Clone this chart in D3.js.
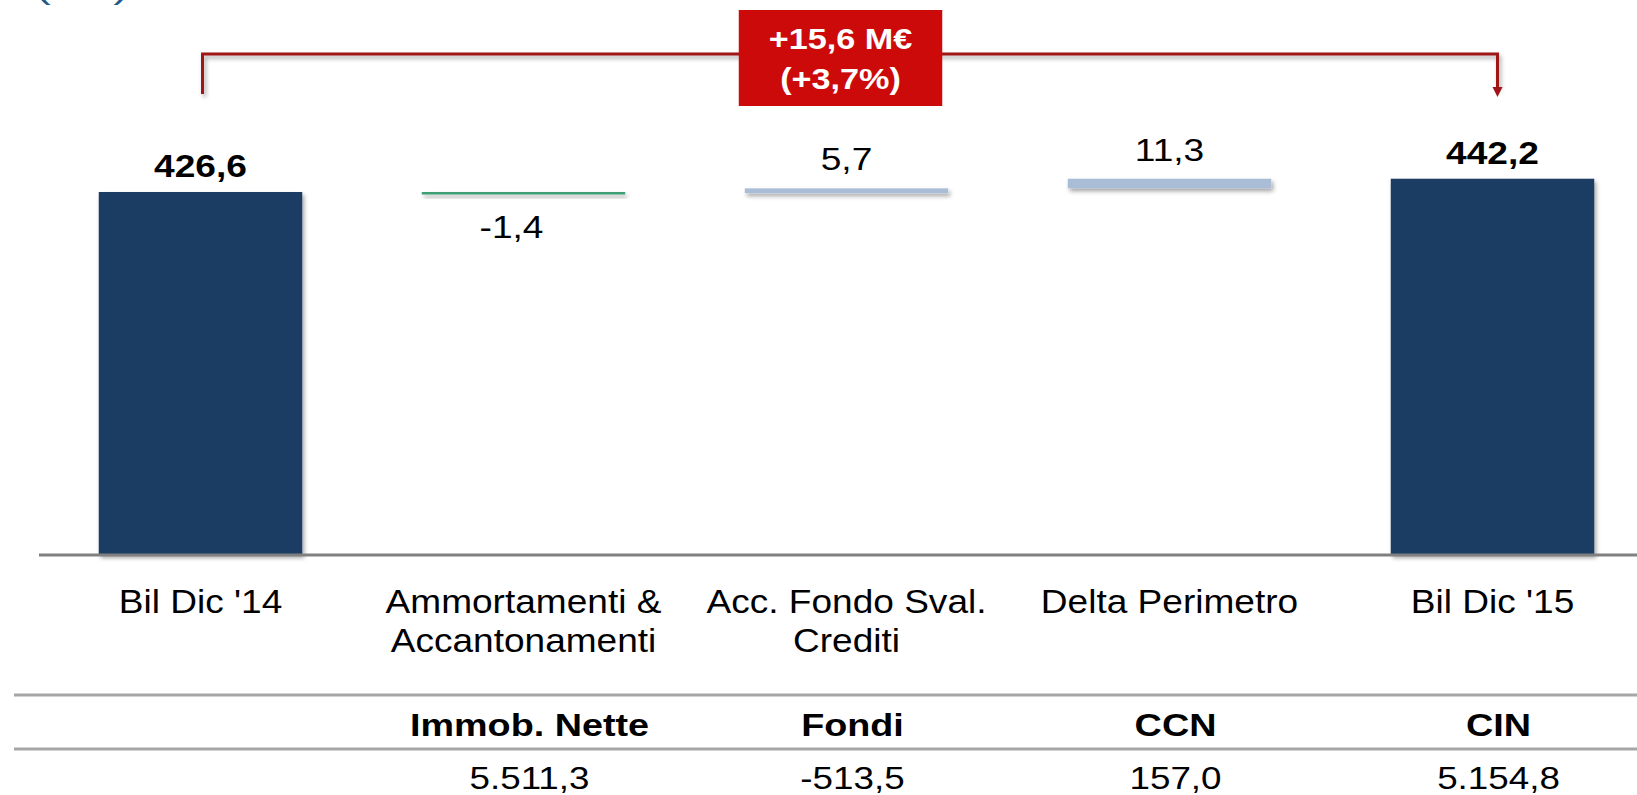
<!DOCTYPE html>
<html>
<head>
<meta charset="utf-8">
<script src="https://cdn.jsdelivr.net/npm/d3@7"></script>
<style>
  body { margin: 0; background: #fff; overflow: hidden; }
  text { font-family: "Liberation Sans", Arial, sans-serif; }
</style>
</head>
<body>
<div id="chart"></div>
<script>
// DATA
const categories = ["Bil Dic '14", "Ammortamenti & Accantonamenti", "Acc. Fondo Sval. Crediti", "Delta Perimetro", "Bil Dic '15"];
const categoryLines = [["Bil Dic '14"], ["Ammortamenti &", "Accantonamenti"], ["Acc. Fondo Sval.", "Crediti"], ["Delta Perimetro"], ["Bil Dic '15"]];
const values = [426.6, -1.4, 5.7, 11.3, 442.2];
const valueLabels = ["426,6", "-1,4", "5,7", "11,3", "442,2"];
const isTotal = [true, false, false, false, true];
const tableHeaders = ["Immob. Nette", "Fondi", "CCN", "CIN"];
const tableValues = ["5.511,3", "-513,5", "157,0", "5.154,8"];
const deltaText = ["+15,6 M€", "(+3,7%)"];
const unitLabel = "(M€)";

const width = 1637;
const height = 795;
const baseY = 555;

const svg = d3.select("div#chart").append("svg")
  .attr("width", width)
  .attr("height", height);

// sombra
const defs = svg.append("defs");
defs.append("filter").attr("id", "shadow")
  .attr("x", "-10%").attr("y", "-50%").attr("width", "120%").attr("height", "300%")
  .append("feDropShadow")
  .attr("dx", 2).attr("dy", 3).attr("stdDeviation", 2)
  .attr("flood-color", "#000").attr("flood-opacity", 0.35);

// scales
const x = d3.scaleBand().domain(categories).range([39, 1654]).paddingInner(0.37).paddingOuter(0.185);
const y = d3.scaleLinear().domain([0, 500]).range([baseY, baseY - 0.8509 * 500]);
const bw = x.bandwidth();
const cx = (c) => x(c) + bw / 2;

// waterfall
let run = 0;
const bars = categories.map((c, i) => {
  let a, b;
  if (isTotal[i]) { a = 0; b = values[i]; run = values[i]; }
  else { a = run; b = run + values[i]; run = b; }
  return { c, i, v: values[i], lo: Math.min(a, b), hi: Math.max(a, b), total: isTotal[i], label: valueLabels[i] };
});

// texto un poco ensanchado como en el original
function stretchText(sel, sx) {
  sel.attr("transform", function () {
    const tx = +d3.select(this).attr("data-x");
    const ty = +d3.select(this).attr("data-y");
    return `translate(${tx},${ty}) scale(${sx},1)`;
  });
}

// unit label (cut at top, only the parentheses show)
svg.append("text")
  .attr("data-x", 82).attr("data-y", -1)
  .attr("text-anchor", "middle")
  .attr("font-size", 30)
  .attr("fill", "#1f5a8c")
  .text(unitLabel)
  .call(stretchText, 1.5);

const barGroup = svg.append("g");
barGroup.selectAll("rect").data(bars).enter().append("rect")
  .attr("x", (d) => x(d.c))
  .attr("width", bw)
  .attr("y", (d) => y(d.hi))
  .attr("height", (d) => d.v < 0 ? 2.5 : Math.max(4, y(d.lo) - y(d.hi)))
  .attr("fill", (d) => d.total ? "#1f3c64" : (d.v < 0 ? "#3e9f73" : "#a9bdd7"))
  .attr("filter", "url(#shadow)");

// axis line
svg.append("line")
  .attr("x1", 39).attr("x2", width)
  .attr("y1", baseY).attr("y2", baseY)
  .attr("stroke", "#808080").attr("stroke-width", 3);

// value labels
svg.append("g").selectAll("text").data(bars).enter().append("text")
  .attr("data-x", (d) => cx(d.c) - (d.v < 0 ? 12 : 0))
  .attr("data-y", (d) => d.v < 0 ? y(d.lo) + 45 : y(d.hi) - (d.total ? 15 : 18))
  .attr("text-anchor", "middle")
  .attr("font-size", 32)
  .attr("font-weight", (d) => d.total ? "bold" : "normal")
  .attr("fill", "#000")
  .text((d) => d.label)
  .call(stretchText, 1.16);

// category labels
const catG = svg.append("g").selectAll("g").data(categories).enter().append("g");
catG.each(function (c, i) {
  d3.select(this).selectAll("text").data(categoryLines[i]).enter().append("text")
    .attr("data-x", cx(c))
    .attr("data-y", (l, j) => 613 + j * 39)
    .attr("text-anchor", "middle")
    .attr("font-size", 34)
    .attr("fill", "#000")
    .text((l) => l)
    .call(stretchText, 1.09);
});

// table
[695, 749].forEach((ly) => {
  svg.append("line")
    .attr("x1", 14).attr("x2", width)
    .attr("y1", ly).attr("y2", ly)
    .attr("stroke", "#a6a6a6").attr("stroke-width", 3);
});
const tableCats = categories.slice(1);
svg.append("g").selectAll("text").data(tableHeaders).enter().append("text")
  .attr("data-x", (d, i) => cx(tableCats[i]) + 6)
  .attr("data-y", 736)
  .attr("text-anchor", "middle")
  .attr("font-size", 32)
  .attr("font-weight", "bold")
  .text((d) => d)
  .call(stretchText, 1.18);
svg.append("g").selectAll("text").data(tableValues).enter().append("text")
  .attr("data-x", (d, i) => cx(tableCats[i]) + 6)
  .attr("data-y", 789)
  .attr("text-anchor", "middle")
  .attr("font-size", 32)
  .text((d) => d)
  .call(stretchText, 1.15);

// bracket with arrow
const bx0 = cx(categories[0]) + 2;
const bx1 = cx(categories[4]) + 5;
const topY = 54;
const red = "#9e1418";
svg.append("path")
  .attr("d", `M${bx0},94 L${bx0},${topY} L${bx1},${topY} L${bx1},88`)
  .attr("fill", "none")
  .attr("stroke", red)
  .attr("stroke-width", 3)
  .attr("filter", "url(#shadow)");
svg.append("path")
  .attr("d", `M${bx1 - 5},87 L${bx1 + 5},87 L${bx1},97 Z`)
  .attr("fill", red);

// delta box
const boxX = x(categories[2]) - 6;
svg.append("rect")
  .attr("x", boxX).attr("y", 10)
  .attr("width", bw).attr("height", 96)
  .attr("fill", "#cc0a0a");
svg.append("g").selectAll("text").data(deltaText).enter().append("text")
  .attr("data-x", boxX + bw / 2)
  .attr("data-y", (d, i) => 49 + i * 40)
  .attr("text-anchor", "middle")
  .attr("font-size", 30)
  .attr("font-weight", "bold")
  .attr("fill", "#fff")
  .text((d) => d)
  .call(stretchText, 1.14);
</script>
</body>
</html>
